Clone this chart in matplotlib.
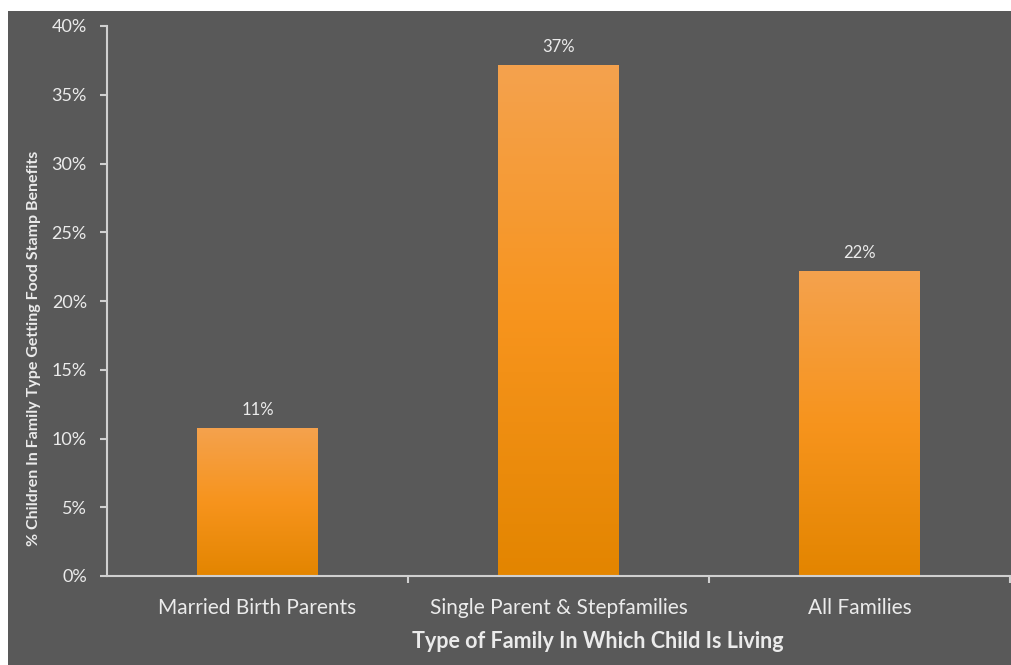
import matplotlib
matplotlib.use("Agg")
import matplotlib.pyplot as plt
import numpy as np
from matplotlib.patches import Rectangle
from matplotlib.colors import LinearSegmentedColormap
from matplotlib.ticker import PercentFormatter

categories = ["Married Birth Parents", "Single Parent & Stepfamilies", "All Families"]
values = [0.108, 0.372, 0.222]
value_labels = ["11%", "37%", "22%"]
yticks = [0, 0.05, 0.10, 0.15, 0.20, 0.25, 0.30, 0.35, 0.40]

FONT = ["Lato", "DejaVu Sans"]
plt.rcParams["font.family"] = FONT
BG = "#595959"
TXT = "#EBEBEB"
AX = "#D0D0D0"

W, H = 1012, 665
fig = plt.figure(figsize=(W / 100, H / 100), dpi=100)
fig.patch.set_facecolor("white")
fig.patches.append(Rectangle((8 / W, 0), 1 - 8 / W, 1 - 11 / H, transform=fig.transFigure,
                             facecolor=BG, edgecolor="none", zorder=-10))

ax = fig.add_axes([107 / W, (H - 576) / H, (1010 - 107) / W, (576 - 26) / H])
ax.set_facecolor("none")
ax.set_zorder(5)

x = np.arange(len(categories))
bars = ax.bar(x, values, width=0.4, color="none", edgecolor="none", zorder=2)

cmap = LinearSegmentedColormap.from_list("og", ["#E38500", "#F7941D", "#F4A24E"])
grad = np.linspace(0, 1, 256).reshape(-1, 1)
for b in bars:
    x0, y0 = b.get_x(), b.get_y()
    w, h = b.get_width(), b.get_height()
    im = ax.imshow(grad, cmap=cmap, origin="lower", aspect="auto",
                   extent=[x0, x0 + w, y0, y0 + h], zorder=1)
    im.set_clip_path(b)

for xi, v, lab in zip(x, values, value_labels):
    ax.annotate(lab, (xi, v), xytext=(0, 7), textcoords="offset points",
                ha="center", va="bottom", color=TXT, fontsize=12)

ax.set_xlim(-0.5, 2.5)
ax.set_ylim(0, 0.40)
ax.set_yticks(yticks)
ax.yaxis.set_major_formatter(PercentFormatter(1.0, decimals=0))
ax.set_xticks([0.5, 1.5, 2.5])
ax.set_xticklabels([])
ax.set_xticks(x, minor=True)
ax.set_xticklabels(categories, minor=True)
ax.tick_params(axis="x", which="minor", length=0, pad=15.5, labelsize=15, labelcolor=TXT)
ax.tick_params(axis="x", which="major", length=5, width=1.5, color=AX, direction="out")
ax.tick_params(axis="y", length=5, width=1.5, color=AX, labelsize=13, labelcolor=TXT, pad=9.5)

for s in ["top", "right"]:
    ax.spines[s].set_visible(False)
for s in ["left", "bottom"]:
    ax.spines[s].set_color(AX)
    ax.spines[s].set_linewidth(1.5)

fig.text(598 / W, 1 - 641 / H, "Type of Family In Which Child Is Living", ha="center", va="center",
         color=TXT, fontsize=15.5, fontweight="bold")
fig.text(34 / W, 1 - 348 / H, "% Children In Family Type Getting Food Stamp Benefits", ha="center",
         va="center", rotation=90, color=TXT, fontsize=11.5, fontweight="bold")

fig.savefig("out.png", dpi=100, facecolor=fig.get_facecolor())
